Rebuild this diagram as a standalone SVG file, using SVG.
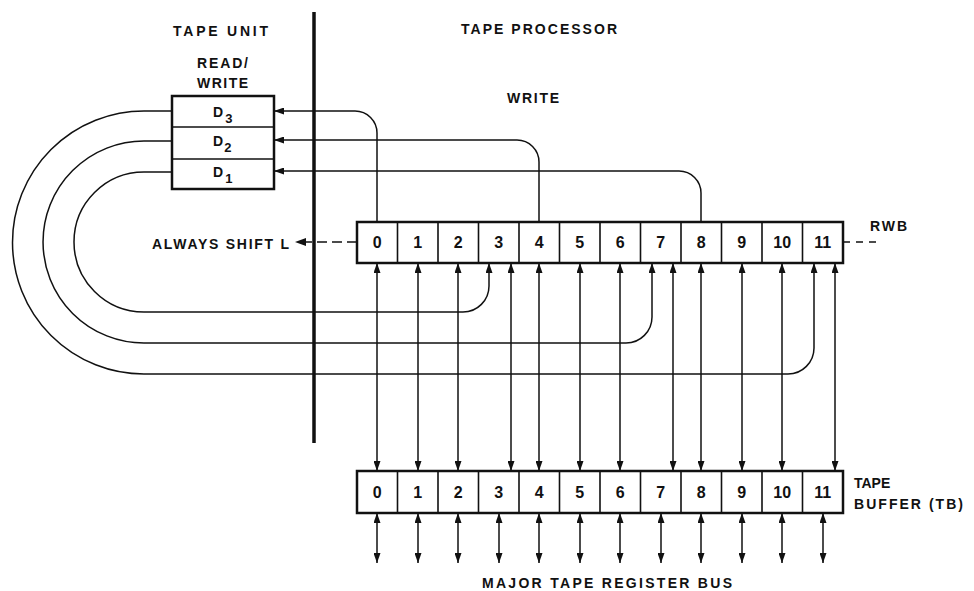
<svg xmlns="http://www.w3.org/2000/svg" width="974" height="591" viewBox="0 0 974 591">
<style>
.t{font-family:"Liberation Sans",Arial,sans-serif;font-weight:bold;font-size:14px;fill:#111}
.dg{font-family:"Liberation Sans",Arial,sans-serif;font-weight:bold;font-size:16px;fill:#111;text-anchor:middle}
.box{fill:none;stroke:#111;stroke-width:2.5}
.div{stroke:#111;stroke-width:1.6}
.ln{fill:none;stroke:#111;stroke-width:1.5}
.dbl{fill:none;stroke:#111;stroke-width:1.5;marker-start:url(#ah);marker-end:url(#ah)}
.one{fill:none;stroke:#111;stroke-width:1.5;marker-end:url(#ah)}
.dash{fill:none;stroke:#111;stroke-width:1.5}
</style>
<defs>
<marker id="ah" viewBox="0 0 10 7" refX="10" refY="3.5" markerWidth="10" markerHeight="7" markerUnits="userSpaceOnUse" orient="auto-start-reverse"><path d="M0,0L10,3.5L0,7z" fill="#111"/></marker>
</defs>
<rect width="974" height="591" fill="#fff"/>

<g id="labels">
<text class="t" x="173" y="36" textLength="95" lengthAdjust="spacing">TAPE UNIT</text>
<text class="t" x="461" y="34" textLength="156" lengthAdjust="spacing">TAPE PROCESSOR</text>
<text class="t" x="197" y="68" textLength="51" lengthAdjust="spacing">READ/</text>
<text class="t" x="197" y="88" textLength="51" lengthAdjust="spacing">WRITE</text>
<text class="t" x="507" y="103" textLength="52" lengthAdjust="spacing">WRITE</text>
<text class="t" x="152" y="249" textLength="137" lengthAdjust="spacing">ALWAYS SHIFT L</text>
<text class="t" x="870" y="231" textLength="37" lengthAdjust="spacing">RWB</text>
<text class="t" x="854" y="488">TAPE</text>
<text class="t" x="854" y="509" textLength="109" lengthAdjust="spacing">BUFFER (TB)</text>
<text class="t" x="482" y="588" textLength="250" lengthAdjust="spacing">MAJOR TAPE REGISTER BUS</text>
</g>

<g id="divider">
<line x1="314" y1="12" x2="314" y2="443" stroke="#111" stroke-width="3.5"/>
</g>

<g id="read-write-head">
<rect class="box" x="172" y="96" width="102" height="93"/>
<line class="div" x1="172" y1="127" x2="274" y2="127"/>
<line class="div" x1="172" y1="159" x2="274" y2="159"/>
<text class="t" x="213" y="117" font-size="15">D<tspan dx="2" dy="6" font-size="13">3</tspan></text>
<text class="t" x="213" y="146" font-size="15">D<tspan dx="1" dy="6" font-size="13">2</tspan></text>
<text class="t" x="213" y="177" font-size="15">D<tspan dx="2" dy="6" font-size="13">1</tspan></text>
</g>

<g id="rwb">
<rect class="box" x="357" y="222" width="486" height="41"/>
<path class="div" d="M397.5,222V263M438,222V263M478.5,222V263M519,222V263M559.5,222V263M600,222V263M640.5,222V263M681,222V263M721.5,222V263M762,222V263M802.5,222V263"/>
<g class="dg">
<text x="377.25" y="248">0</text><text x="417.75" y="248">1</text><text x="458.25" y="248">2</text><text x="498.75" y="248">3</text>
<text x="539.25" y="248">4</text><text x="579.75" y="248">5</text><text x="620.25" y="248">6</text><text x="660.75" y="248">7</text>
<text x="701.25" y="248">8</text><text x="741.75" y="248">9</text><text x="782.25" y="248">10</text><text x="822.75" y="248">11</text>
</g>
</g>

<g id="tb">
<rect class="box" x="357" y="471" width="486" height="42"/>
<path class="div" d="M397.5,471V513M438,471V513M478.5,471V513M519,471V513M559.5,471V513M600,471V513M640.5,471V513M681,471V513M721.5,471V513M762,471V513M802.5,471V513"/>
<g class="dg">
<text x="377.25" y="498">0</text><text x="417.75" y="498">1</text><text x="458.25" y="498">2</text><text x="498.75" y="498">3</text>
<text x="539.25" y="498">4</text><text x="579.75" y="498">5</text><text x="620.25" y="498">6</text><text x="660.75" y="498">7</text>
<text x="701.25" y="498">8</text><text x="741.75" y="498">9</text><text x="782.25" y="498">10</text><text x="822.75" y="498">11</text>
</g>
</g>

<g id="connectors">
<path class="one" d="M377,222V133A22,22 0 0 0 355,111H274"/>
<path class="one" d="M539,222V162A22,22 0 0 0 517,140H274"/>
<path class="one" d="M701,222V193A22,22 0 0 0 679,171H274"/>
<path class="one" d="M172,172H144A70,70 0 0 0 144,312H463A26,26 0 0 0 489,286V263"/>
<path class="one" d="M172,141H144A101,101 0 0 0 144,343H626A26,26 0 0 0 652,317V263"/>
<path class="one" d="M172,111H144A131.5,131.5 0 0 0 144,374H788A26,26 0 0 0 814,348V263"/>
<path class="dbl" d="M377,263V471"/>
<path class="dbl" d="M418,263V471"/>
<path class="dbl" d="M458,263V471"/>
<path class="dbl" d="M511,263V471"/>
<path class="dbl" d="M539,263V471"/>
<path class="dbl" d="M580,263V471"/>
<path class="dbl" d="M620,263V471"/>
<path class="dbl" d="M673,263V471"/>
<path class="dbl" d="M701,263V471"/>
<path class="dbl" d="M742,263V471"/>
<path class="dbl" d="M782,263V471"/>
<path class="dbl" d="M835,263V471"/>
<path class="dbl" d="M377,513V563"/>
<path class="dbl" d="M418,513V563"/>
<path class="dbl" d="M458,513V563"/>
<path class="dbl" d="M499,513V563"/>
<path class="dbl" d="M539,513V563"/>
<path class="dbl" d="M580,513V563"/>
<path class="dbl" d="M620,513V563"/>
<path class="dbl" d="M661,513V563"/>
<path class="dbl" d="M701,513V563"/>
<path class="dbl" d="M742,513V563"/>
<path class="dbl" d="M782,513V563"/>
<path class="dbl" d="M823,513V563"/>
<line class="dash" x1="357" y1="242" x2="306" y2="242" stroke-dasharray="10 5"/>
<path d="M295,242L306,238L306,246z" fill="#111"/>
<line class="dash" x1="843" y1="242" x2="882" y2="242" stroke-dasharray="7 6"/>
</g>
</svg>
